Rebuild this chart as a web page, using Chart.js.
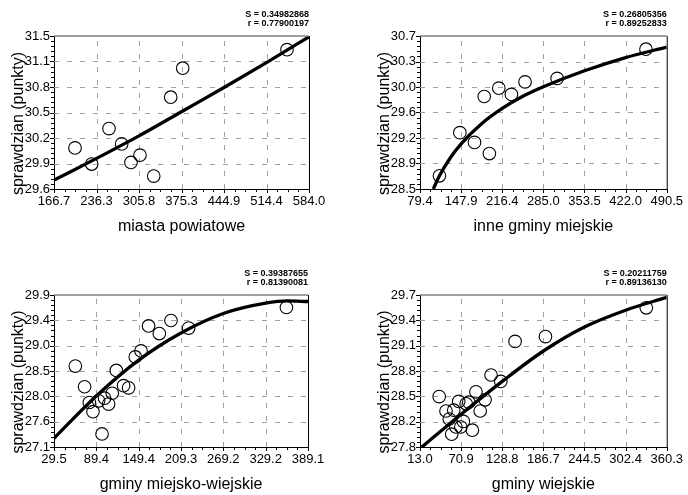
<!DOCTYPE html>
<html lang="pl">
<head>
<meta charset="UTF-8" />
<title>Sprawdzian - wykresy rozrzutu</title>
<script src="https://cdn.jsdelivr.net/npm/chart.js@4"></script>
<style>
  body { margin: 0; background: #fff; width: 688px; height: 495px; overflow: hidden; position: relative; }
  canvas { position: absolute; }
</style>
</head>
<body>
<canvas id="c1" width="344" height="247" style="left:0;top:0"></canvas>
<canvas id="c2" width="344" height="247" style="left:344px;top:0"></canvas>
<canvas id="c3" width="344" height="248" style="left:0;top:247px"></canvas>
<canvas id="c4" width="344" height="248" style="left:344px;top:247px"></canvas>
<script>
// miasta powiatowe
const mpXTicks = ['166.7', '236.3', '305.8', '375.3', '444.9', '514.4', '584.0'];
const mpYTicks = ['29.6', '29.9', '30.2', '30.5', '30.8', '31.1', '31.5'];
const mpX = [201.1, 228.4, 256.7, 277.4, 292.7, 307.4, 329.9, 357.7, 377.3, 548.0];
const mpY = [30.11, 29.91, 30.35, 30.16, 29.93, 30.02, 29.76, 30.74, 31.10, 31.33];
const mpFitX = [166.7, 236.3, 305.8, 375.3, 444.9, 514.4, 584.0];
const mpFitY = [29.71, 29.98, 30.26, 30.56, 30.86, 31.17, 31.49];

// inne gminy miejskie
const igXTicks = ['79.4', '147.9', '216.4', '285.0', '353.5', '422.0', '490.5'];
const igYTicks = ['28.5', '28.9', '29.2', '29.6', '30.0', '30.3', '30.7'];
const igX = [111.8, 145.8, 170.2, 186.4, 195.0, 210.7, 231.7, 254.4, 307.9, 455.9];
const igY = [28.69, 29.31, 29.17, 29.83, 29.01, 29.95, 29.86, 30.04, 30.09, 30.51];
const igFitX = [101.5, 111.8, 130.0, 147.9, 182.0, 216.4, 250.0, 285.0, 353.5, 422.0, 490.5];
const igFitY = [28.50, 28.69, 28.95, 29.15, 29.44, 29.66, 29.83, 29.97, 30.20, 30.39, 30.54];

// gminy miejsko-wiejskie
const mwXTicks = ['29.5', '89.4', '149.4', '209.3', '269.2', '329.2', '389.1'];
const mwYTicks = ['27.1', '27.6', '28.0', '28.5', '29.0', '29.4', '29.9'];
const mwX = [59.7, 72.8, 79.5, 84.7, 92.6, 97.5, 101.1, 106.8, 112.0, 117.7, 128.0, 135.1, 144.6, 152.7, 163.4, 178.6, 195.1, 220.1, 358.5];
const mwY = [28.59, 28.21, 27.92, 27.75, 27.95, 27.34, 28.00, 27.89, 28.09, 28.51, 28.23, 28.19, 28.76, 28.87, 29.33, 29.19, 29.43, 29.29, 29.67];
const mwFitX = [29.5, 89.4, 149.4, 209.3, 269.2, 329.2, 360.0, 389.1];
const mwFitY = [27.26, 28.04, 28.70, 29.20, 29.56, 29.75, 29.79, 29.78];

// gminy wiejskie
const gwXTicks = ['13.0', '70.9', '128.8', '186.7', '244.5', '302.4', '360.3'];
const gwYTicks = ['27.8', '28.2', '28.5', '28.8', '29.1', '29.4', '29.7'];
const gwX = [40.0, 49.6, 54.2, 60.5, 57.6, 63.5, 67.5, 70.5, 74.0, 78.0, 81.6, 86.7, 91.7, 97.7, 104.6, 113.0, 126.7, 146.8, 189.6, 331.5];
const gwY = [28.43, 28.25, 28.15, 28.26, 27.96, 28.05, 28.37, 28.05, 28.12, 28.34, 28.36, 28.01, 28.49, 28.25, 28.39, 28.70, 28.62, 29.12, 29.18, 29.54];
const gwFitX = [13.0, 70.9, 128.8, 186.7, 244.5, 302.4, 360.3];
const gwFitY = [27.78, 28.21, 28.62, 29.00, 29.30, 29.51, 29.67];

const FONT = '"Liberation Sans", Arial, Helvetica, sans-serif';
const yTitle = 'sprawdzian (punkty)';

// siatka przerywana, ramka, drobne kreski osi, tytul osi Y i statystyki S / r
const panelDeco = {
  id: 'panelDeco',
  beforeDatasetsDraw(chart) {
    const { ctx, chartArea: a, scales: { x, y } } = chart;
    ctx.save();
    ctx.strokeStyle = '#a0a0a0';
    ctx.lineWidth = 1;
    ctx.setLineDash([5, 8]);
    ctx.beginPath();
    x.ticks.slice(1, -1).forEach(t => {
      const p = Math.round(x.getPixelForValue(t.value)) + 0.5;
      ctx.moveTo(p, a.bottom); ctx.lineTo(p, a.top);
    });
    y.ticks.slice(1, -1).forEach(t => {
      const p = Math.round(y.getPixelForValue(t.value)) + 0.5;
      ctx.moveTo(a.left, p); ctx.lineTo(a.right, p);
    });
    ctx.stroke();
    ctx.restore();
  },
  afterDraw(chart, args, opts) {
    const { ctx, chartArea: a, scales: { x, y } } = chart;
    ctx.save();
    ctx.lineWidth = 1.5;
    ctx.strokeStyle = '#808080';
    ctx.beginPath(); ctx.moveTo(a.left, a.top); ctx.lineTo(a.right, a.top); ctx.stroke();
    ctx.lineWidth = 1;
    ctx.strokeStyle = '#000';
    ctx.beginPath(); ctx.moveTo(a.right + 0.5, a.top); ctx.lineTo(a.right + 0.5, a.bottom); ctx.stroke();

    ctx.beginPath();
    const yt = y.ticks, xt = x.ticks;
    for (let i = 0; i < yt.length; i++) {
      const p = Math.round(y.getPixelForValue(yt[i].value)) + 0.5;
      ctx.moveTo(a.left, p); ctx.lineTo(a.left - 4, p);
      if (i === yt.length - 1) break;
      for (let k = 1; k < 5; k++) {
        const q = Math.round(y.getPixelForValue(yt[i].value + (yt[i + 1].value - yt[i].value) * k / 5)) + 0.5;
        ctx.moveTo(a.left, q); ctx.lineTo(a.left - 3, q);
      }
    }
    for (let i = 0; i < xt.length; i++) {
      const p = Math.round(x.getPixelForValue(xt[i].value)) + 0.5;
      ctx.moveTo(p, a.bottom); ctx.lineTo(p, a.bottom + 4);
      if (i === xt.length - 1) break;
      for (let k = 1; k < 4; k++) {
        const q = Math.round(x.getPixelForValue(xt[i].value + (xt[i + 1].value - xt[i].value) * k / 4)) + 0.5;
        ctx.moveTo(q, a.bottom); ctx.lineTo(q, a.bottom + 3);
      }
    }
    ctx.stroke();

    ctx.fillStyle = '#000';
    ctx.font = 'bold 9px ' + FONT;
    ctx.textAlign = 'right';
    ctx.textBaseline = 'middle';
    ctx.fillText(opts.s, a.right, a.top - 21);
    ctx.fillText(opts.r, a.right, a.top - 12);

    ctx.translate(a.left - 35, (a.top + a.bottom) / 2 + 11);
    ctx.rotate(-Math.PI / 2);
    ctx.font = '16px ' + FONT;
    ctx.textAlign = 'center';
    ctx.fillText(yTitle, 0, 0);
    ctx.restore();
  }
};

function evenTicks(labels) {
  return scale => {
    const lo = parseFloat(labels[0]), hi = parseFloat(labels[labels.length - 1]);
    scale.ticks = labels.map((_, i) => ({ value: lo + (hi - lo) * i / (labels.length - 1) }));
  };
}

function makePanel(id, area, xTicks, yTicks, px, py, fx, fy, xTitle, s, r) {
  const canvas = document.getElementById(id);
  const W = canvas.width, H = canvas.height;
  const axisH = H - area.bottom;
  new Chart(canvas, {
    type: 'scatter',
    data: {
      datasets: [
        {
          data: px.map((v, i) => ({ x: v, y: py[i] })),
          pointStyle: 'circle',
          pointRadius: 6.3,
          pointBorderWidth: 1.1,
          pointBorderColor: '#000',
          pointBackgroundColor: 'rgba(0,0,0,0)',
          clip: false
        },
        {
          data: fx.map((v, i) => ({ x: v, y: fy[i] })),
          showLine: true,
          borderColor: '#000',
          borderWidth: 3.3,
          pointRadius: 0,
          cubicInterpolationMode: 'monotone',
          clip: 0
        }
      ]
    },
    options: {
      responsive: false,
      animation: false,
      events: [],
      devicePixelRatio: 1,
      layout: { padding: { left: 0, top: area.top, right: W - area.right, bottom: 0 } },
      plugins: {
        legend: { display: false },
        tooltip: { enabled: false },
        panelDeco: { s: s, r: r }
      },
      scales: {
        x: {
          type: 'linear',
          min: parseFloat(xTicks[0]),
          max: parseFloat(xTicks[xTicks.length - 1]),
          afterBuildTicks: evenTicks(xTicks),
          afterFit: sc => { sc.height = axisH; },
          ticks: {
            autoSkip: false, maxRotation: 0, padding: 5, color: '#000',
            font: { family: FONT, size: 13 },
            callback: (v, i) => xTicks[i]
          },
          grid: { display: false, drawTicks: false },
          border: { display: true, color: '#000', width: 1 },
          title: {
            display: true, text: xTitle, color: '#000',
            font: { family: FONT, size: 16 },
            padding: { top: 0, bottom: axisH - 9.6 - 38 }
          }
        },
        y: {
          type: 'linear',
          min: parseFloat(yTicks[0]),
          max: parseFloat(yTicks[yTicks.length - 1]),
          afterBuildTicks: evenTicks(yTicks),
          afterFit: sc => { sc.width = area.left; },
          ticks: {
            autoSkip: false, padding: 4, color: '#000',
            font: { family: FONT, size: 13 },
            callback: (v, i) => yTicks[i]
          },
          grid: { display: false, drawTicks: false },
          border: { display: true, color: '#000', width: 1 }
        }
      }
    },
    plugins: [panelDeco]
  });
}

makePanel('c1', { left: 54, right: 309, top: 36, bottom: 189 }, mpXTicks, mpYTicks, mpX, mpY, mpFitX, mpFitY,
  'miasta powiatowe', 'S = 0.34982868', 'r = 0.77900197');
makePanel('c2', { left: 76, right: 329, top: 36, bottom: 189 }, igXTicks, igYTicks, igX, igY, igFitX, igFitY,
  'inne gminy miejskie', 'S = 0.26805356', 'r = 0.89252833');
makePanel('c3', { left: 54, right: 308, top: 48, bottom: 200 }, mwXTicks, mwYTicks, mwX, mwY, mwFitX, mwFitY,
  'gminy miejsko-wiejskie', 'S = 0.39387655', 'r = 0.81390081');
makePanel('c4', { left: 76, right: 329, top: 48, bottom: 200 }, gwXTicks, gwYTicks, gwX, gwY, gwFitX, gwFitY,
  'gminy wiejskie', 'S = 0.20211759', 'r = 0.89136130');
</script>
</body>
</html>
